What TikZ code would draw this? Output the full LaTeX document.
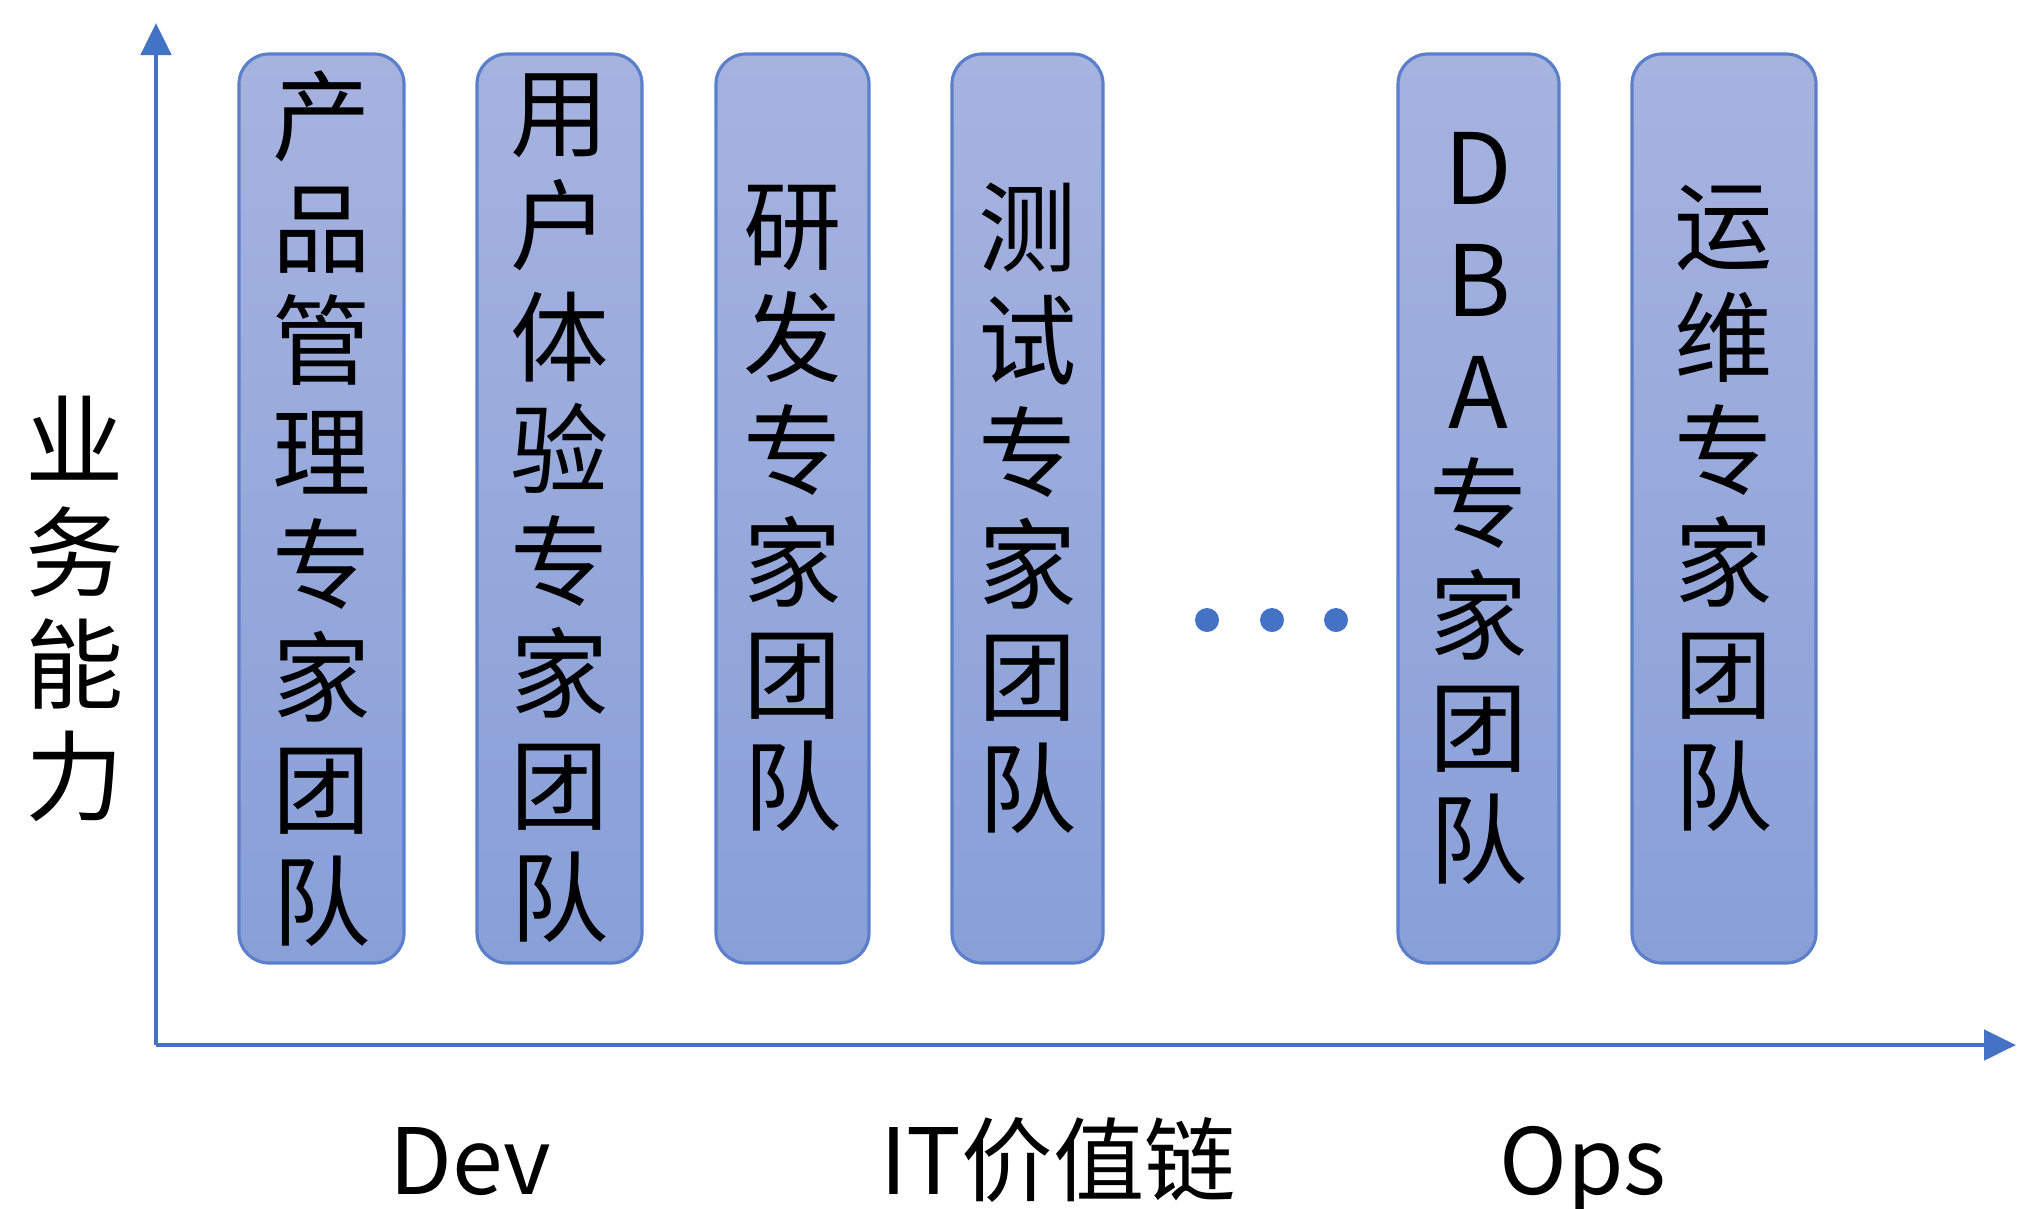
\documentclass[tikz,border=0pt]{standalone}
\usepackage{fontspec}
\setmainfont{Noto Sans CJK SC}
\usepackage{tikz}
\usetikzlibrary{arrows.meta, positioning}
\definecolor{axisblue}{RGB}{68,114,196}
\definecolor{teamtop}{RGB}{166,179,223}
\definecolor{teambottom}{RGB}{136,159,216}
\definecolor{teamborder}{RGB}{91,127,203}
\tikzset{
    team/.style={
        rectangle,
        draw=teamborder,
        line width=0.9pt,
        rounded corners=0.3cm,
        top color=teamtop,
        bottom color=teambottom,
        minimum height=9.09cm,
        align=center,
        inner sep=0pt,
        font=\fontsize{28pt}{31.9pt}\selectfont
    },
    axis/.style={
        -{Triangle[length=0.32cm, width=0.3cm]},
        draw=axisblue,
        line width=1.4pt
    },
    label/.style={
        font=\fontsize{28pt}{31.9pt}\selectfont
    },
    dot/.style={
        circle,
        fill=axisblue,
        minimum size=0.24cm,
        inner sep=0pt
    }
}

\begin{document}
\begin{tikzpicture}
    \useasboundingbox (0,0) rectangle (20.18,12.08);

    % Axes
    \coordinate (origin) at (1.56,1.63);
    \coordinate (ytip) at (1.56,11.85);
    \coordinate (xtip) at (20.16,1.63);
    \draw [axis] (origin) -- (ytip);
    \draw [axis] (origin) -- (xtip);

    % Nodes for teams
    \node (product) [team, minimum width=1.65cm] at (3.215,6.995) {产\\品\\管\\理\\专\\家\\团\\队};
    \node (ux) [team, minimum width=1.65cm] at (5.595,6.995) {用\\户\\体\\验\\专\\家\\团\\队};
    \node (dev) [team, minimum width=1.53cm] at (7.925,6.995) {研\\发\\专\\家\\团\\队};
    \node (test) [team, minimum width=1.51cm] at (10.275,6.995) {测\\试\\专\\家\\团\\队};
    \node (dba) [team, minimum width=1.61cm] at (14.785,6.995) {D\\B\\A\\专\\家\\团\\队};
    \node (ops) [team, minimum width=1.84cm] at (17.24,6.995) {运\\维\\专\\家\\团\\队};

    % Dots between the teams
    \node (dotA) [dot] at (12.07,5.88) {};
    \node (dotB) [dot] at (12.72,5.88) {};
    \node (dotC) [dot] at (13.36,5.88) {};

    % Axis labels
    \node (ability) [label, align=center] at (0.75,5.99) {业\\务\\能\\力};
    \node (devlabel) [label, anchor=base, font=\fontsize{26pt}{30pt}\selectfont] at (4.70,0.14) {Dev};
    \node (chain) [label, anchor=base, font=\fontsize{26pt}{30pt}\selectfont] at (10.58,0.14) {IT价值链};
    \node (opslabel) [label, anchor=base, font=\fontsize{26pt}{30pt}\selectfont] at (15.83,0.14) {Ops};

\end{tikzpicture}
\end{document}
